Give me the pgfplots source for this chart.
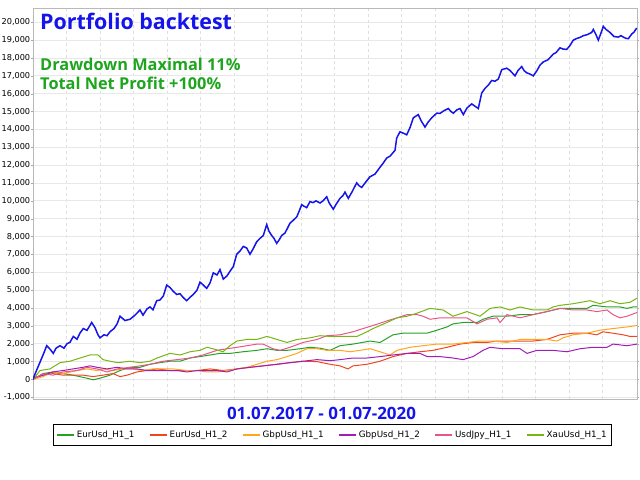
\documentclass[border=0pt]{standalone}
\usepackage{pgfplots}
\pgfplotsset{compat=1.18}
\usepackage{fontspec}
\setmainfont{DejaVu Sans}
\newfontfamily\osans{Open Sans}
\definecolor{cblue}{RGB}{20,20,235}
\definecolor{ctext}{RGB}{30,165,30}
\definecolor{cg}{RGB}{40,160,40}
\definecolor{cr}{RGB}{240,70,30}
\definecolor{co}{RGB}{255,165,30}
\definecolor{cp}{RGB}{160,30,180}
\definecolor{cpk}{RGB}{232,85,135}
\definecolor{cl}{RGB}{120,180,20}
\begin{document}
\begin{tikzpicture}
\useasboundingbox (0,0) rectangle (640bp,480bp);
\begin{axis}[
  at={(33bp,80.9bp)}, anchor=south west, scale only axis,
  width=604bp, height=390.4bp,
  xmin=33, xmax=637, ymin=-1100, ymax=20760,
  xtick={66.5,100,133.5,167,200.5,234,267.5,301,334.5,368,401.5,435,468.5,502,535.5,569,602.5},
  xticklabels={}, xtick style={draw=none},
  ytick={-1000,0,1000,2000,3000,4000,5000,6000,7000,8000,9000,10000,11000,12000,13000,14000,15000,16000,17000,18000,19000,20000},
  yticklabel style={font=\fontsize{8.2}{10}\selectfont, inner xsep=0.6bp, /pgf/number format/.cd, 1000 sep={,}, assume math mode=true},
  scaled y ticks=false,
  tick align=outside, major tick length=2bp, ytick style={gray!70},
  axis line style={gray!55},
  xmajorgrids, ymajorgrids,
  major y grid style={gray!18, line width=0.9bp},
  major x grid style={gray!25, dashed, line width=0.6bp},
  legend columns=6,
  legend style={at={(0.496,-0.092)}, anchor=center, draw=black, line width=0.7bp,
    font=\fontsize{8.8}{10}\selectfont, inner ysep=4.5bp, inner xsep=3bp,
    /tikz/every even column/.append style={column sep=13bp}},
  legend image post style={line width=1.2bp},
  every axis plot/.append style={line width=1bp, mark=none},
]
\addplot[cg] coordinates {(33,0)(43,330)(53,420)(63,330)(73,240)(87,70)(93,-20)(100,70)(110,240)(120,500)(130,680)(140,680)(150,850)(160,940)(170,1020)(180,1020)(190,1200)(200,1280)(210,1370)(220,1460)(230,1460)(243,1550)(257,1630)(267,1720)(277,1630)(287,1630)(300,1720)(310,1800)(320,1750)(330,1630)(340,1890)(353,1980)(370,2150)(380,2070)(393,2500)(403,2590)(413,2590)(427,2590)(437,2760)(447,2940)(453,3110)(463,3190)(477,3190)(483,3370)(493,3540)(507,3540)(520,3630)(533,3630)(547,3800)(560,3980)(573,3980)(587,3980)(593,4150)(607,4060)(620,4060)(627,3980)(633,4060)(637,4060)};
\addlegendentry{EurUsd\_H1\_1}
\addplot[cr] coordinates {(33,70)(43,240)(53,330)(63,240)(73,240)(83,240)(93,160)(103,240)(113,330)(120,160)(127,240)(137,420)(147,500)(157,590)(170,500)(183,500)(197,500)(210,590)(223,500)(237,590)(250,680)(263,760)(277,850)(290,940)(303,1020)(317,1000)(330,850)(340,760)(348,590)(353,760)(367,850)(380,1020)(393,1280)(407,1460)(420,1550)(433,1630)(447,1800)(460,1980)(473,2070)(487,2070)(497,2150)(507,2150)(520,2150)(533,2150)(547,2240)(560,2500)(573,2590)(587,2590)(597,2500)(603,2670)(613,2590)(623,2500)(630,2410)(637,2410)};
\addlegendentry{EurUsd\_H1\_2}
\addplot[co] coordinates {(33,0)(43,160)(53,420)(63,330)(77,500)(87,590)(97,500)(103,590)(113,500)(123,590)(133,590)(143,500)(153,590)(163,590)(173,590)(187,500)(197,500)(207,420)(217,420)(227,500)(237,590)(247,680)(257,850)(267,1020)(277,1110)(287,1280)(297,1460)(307,1720)(317,1720)(327,1630)(340,1630)(350,1550)(360,1630)(370,1720)(380,1550)(390,1370)(397,1630)(410,1800)(423,1890)(437,1980)(453,1980)(467,2070)(480,2150)(493,2150)(507,2070)(520,2240)(533,2240)(547,2240)(557,2150)(563,2330)(573,2500)(587,2590)(600,2760)(613,2850)(627,2940)(637,3020)};
\addlegendentry{GbpUsd\_H1\_1}
\addplot[cp] coordinates {(33,70)(43,240)(53,420)(63,500)(73,590)(83,680)(90,760)(97,680)(107,590)(117,680)(127,590)(137,590)(147,500)(157,500)(167,500)(177,500)(187,420)(197,500)(207,500)(217,500)(227,420)(237,590)(250,680)(263,760)(277,850)(290,940)(303,1020)(317,1110)(330,1050)(340,1110)(353,1200)(367,1200)(380,1280)(393,1370)(407,1460)(420,1460)(427,1280)(440,1280)(453,1200)(463,1110)(473,1280)(483,1630)(490,1800)(503,1720)(520,1720)(527,1460)(537,1630)(553,1630)(567,1550)(580,1720)(593,1800)(607,1800)(613,1980)(627,1890)(637,1980)};
\addlegendentry{GbpUsd\_H1\_2}
\addplot[cpk] coordinates {(33,0)(43,330)(53,240)(63,420)(77,500)(87,680)(97,590)(107,420)(117,590)(130,680)(140,760)(150,850)(163,1020)(177,1110)(190,1200)(203,1370)(217,1630)(227,1720)(237,1800)(247,1890)(257,1980)(263,1980)(273,1720)(280,1630)(290,1800)(303,2070)(317,2240)(327,2450)(340,2500)(353,2670)(363,2850)(373,3020)(387,3280)(397,3450)(407,3630)(417,3630)(423,3540)(430,3370)(440,3450)(453,3450)(467,3450)(477,3110)(487,3370)(497,3450)(500,3190)(507,3630)(520,3450)(533,3630)(547,3800)(560,3980)(573,3890)(587,3890)(597,3800)(607,3890)(613,3630)(620,3450)(627,3540)(637,3750)};
\addlegendentry{UsdJpy\_H1\_1}
\addplot[cl] coordinates {(33,0)(40,500)(50,590)(60,940)(70,1020)(80,1200)(90,1370)(98,1370)(103,1110)(110,1020)(118,940)(130,1020)(140,940)(150,1020)(157,1200)(170,1460)(180,1370)(190,1550)(200,1630)(207,1800)(213,1720)(223,1550)(230,1890)(237,2150)(247,2240)(257,2240)(267,2410)(277,2240)(287,2070)(297,2240)(310,2330)(320,2450)(330,2410)(347,2410)(357,2410)(367,2670)(373,2850)(387,3190)(397,3450)(407,3540)(417,3710)(430,3980)(443,3890)(453,3540)(467,3800)(480,3540)(490,3980)(500,4060)(510,3890)(520,4060)(533,3890)(547,3890)(553,4060)(560,4150)(573,4240)(590,4410)(600,4240)(610,4410)(620,4240)(630,4320)(637,4550)};
\addlegendentry{XauUsd\_H1\_1}
\addplot[cblue, line width=1.5bp, forget plot] coordinates {(33,0)(35,300)(38,700)(41,1100)(44,1500)(46.7,1890)(50,1700)(53.3,1460)(56,1750)(60,1890)(64,1750)(67,2000)(70,2080)(73.3,2410)(77,2250)(80,2600)(83.3,2850)(87,2750)(91.7,3190)(95,2900)(98,2500)(100,2330)(104,2500)(107,2450)(110,2670)(114,2850)(117,3100)(120,3540)(125,3300)(130,3370)(135,3600)(140,3890)(143,3600)(147,3950)(150,4060)(153,3900)(156.7,4410)(160,4450)(163.3,4670)(166.7,5280)(170,5150)(173,4950)(176.7,4760)(180,4800)(183,4600)(186.7,4410)(190,4600)(193.3,4760)(197,5000)(200,5450)(203,5300)(206.7,5100)(210,5400)(213.3,5970)(217,5850)(220,6150)(223.3,5620)(227,5800)(230,6060)(233.3,6320)(236.7,7010)(240,7190)(243.3,7450)(246.7,7360)(250,7010)(253,7300)(256.7,7710)(260,7900)(263.3,8060)(266.7,8670)(269,8300)(271.7,8060)(274,7900)(276.7,7620)(279,7800)(281.7,8060)(285,8200)(290,8750)(293,8900)(296.7,9100)(299,9400)(301.7,9790)(304,9700)(306.7,9620)(310,9960)(313,9900)(316,10000)(320,9880)(323,10000)(326.7,10230)(329,9900)(333.3,9530)(336,9800)(340,10140)(343,10300)(345,10490)(348.3,10140)(352,10500)(356.7,11010)(359,10850)(361.7,10750)(365,11000)(370,11350)(375,11500)(380,11880)(383,12100)(386.7,12400)(390,12500)(395,12830)(396.7,13520)(400,13870)(403.3,13790)(406.7,13700)(410,14100)(413.3,14650)(418.3,14830)(421,14500)(425,14130)(428,14400)(431.7,14650)(436.7,14910)(440,14900)(444,15050)(448.3,15170)(451,15000)(453.3,14910)(457,15100)(460,15170)(463.3,14830)(467,15200)(471.7,15430)(475,15300)(478.3,15170)(481.7,16040)(485,16300)(488.3,16480)(491.7,16740)(495,16700)(498.3,16820)(501.7,17340)(506.7,17430)(510,17300)(515,17000)(518,17300)(521.7,17520)(524,17300)(526.7,17170)(530,17100)(533.3,17000)(537,17300)(540,17600)(543.3,17780)(548,17900)(553.3,18220)(556,18300)(560,18570)(563,18500)(566.7,18480)(570,18700)(573.3,19000)(577,19100)(580,19150)(583.3,19250)(587,19300)(591.7,19430)(593.3,19600)(596,19300)(598.3,19000)(601,19400)(603.3,19770)(606,19600)(610,19430)(614,19200)(618.3,19170)(621,19250)(623.3,19170)(626,19100)(628.3,19080)(631.7,19340)(634,19450)(636.7,19680)};
\end{axis}
\node[anchor=base west, inner sep=0, text=cblue, font=\osans\bfseries\fontsize{21.5}{24}\selectfont] at (40bp,450bp) {Portfolio backtest};
\node[anchor=base west, inner sep=0, text=ctext, font=\osans\bfseries\fontsize{16.4}{18}\selectfont] at (40bp,409.3bp) {Drawdown Maximal 11\%};
\node[anchor=base west, inner sep=0, text=ctext, font=\osans\bfseries\fontsize{16.4}{18}\selectfont] at (40bp,390bp) {Total Net Profit +100\%};
\node[anchor=center, inner sep=0, text=cblue, font=\osans\bfseries\fontsize{17}{19}\selectfont] at (321.5bp,67bp) {01.07.2017 - 01.07-2020};
\end{tikzpicture}
\end{document}
